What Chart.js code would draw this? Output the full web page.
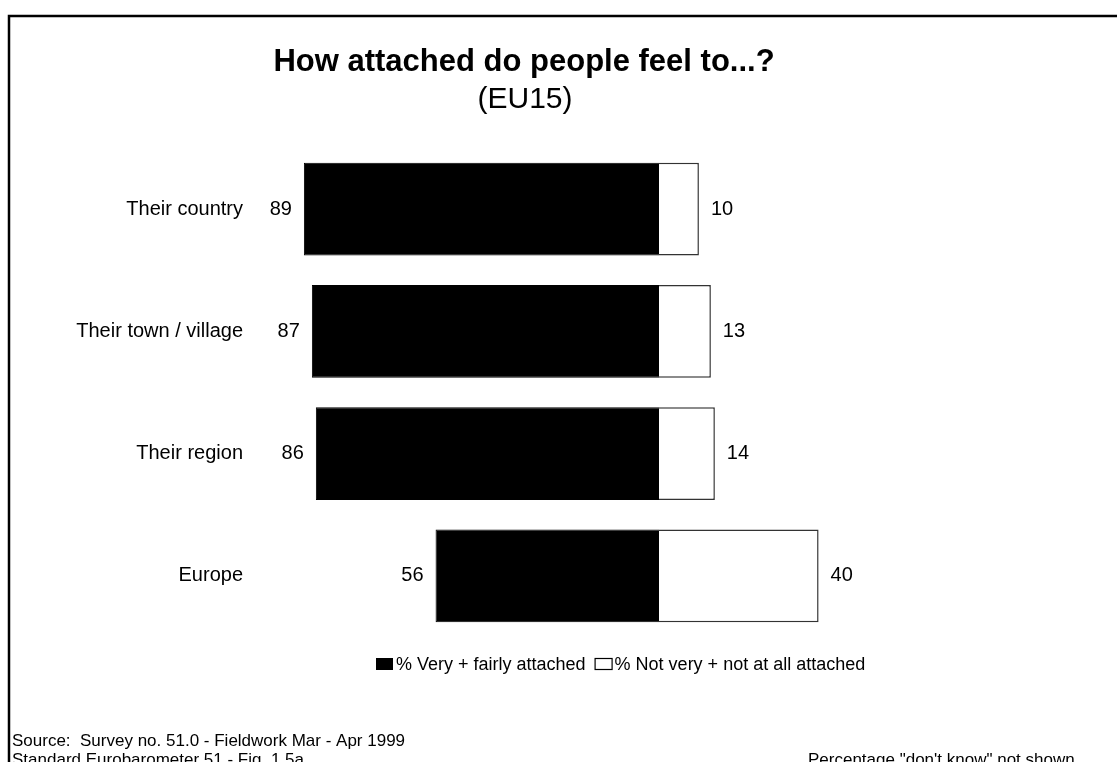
<!DOCTYPE html>
<html>
<head>
<meta charset="utf-8">
<script src="https://cdn.jsdelivr.net/npm/chart.js@4"></script>
<style>
  body { margin: 0; background: #fff; }
  canvas { display: block; }
</style>
</head>
<body>
<canvas id="chart" width="1117" height="762"></canvas>
<script>
var categories = ['Their country', 'Their town / village', 'Their region', 'Europe'];
var attached = [89, 87, 86, 56];
var notAttached = [10, 13, 14, 40];
var seriesLabels = ['% Very + fairly attached', '% Not very + not at all attached'];

var titleText = 'How attached do people feel to...?';
var subtitleText = '(EU15)';
var sourceLines = ['Source:  Survey no. 51.0 - Fieldwork Mar - Apr 1999', 'Standard Eurobarometer 51 - Fig. 1.5a'];
var noteText = 'Percentage "don\'t know" not shown';

var FONT = "'Liberation Sans', Arial, sans-serif";

// everything that is not a bar: frame, titles, labels, legend, footnotes
var decorations = {
  id: 'decorations',
  afterDraw: function (chart) {
    var ctx = chart.ctx;
    ctx.save();

    // frame (runs off the right and bottom edge)
    ctx.strokeStyle = '#000';
    ctx.lineWidth = 2.5;
    ctx.strokeRect(9, 16, 1300, 900);

    ctx.fillStyle = '#000';
    ctx.textAlign = 'center';
    ctx.textBaseline = 'alphabetic';
    ctx.font = 'bold 31px ' + FONT;
    ctx.fillText(titleText, 524, 71);
    ctx.font = '30px ' + FONT;
    ctx.fillText(subtitleText, 525, 108);

    // category labels and values
    var black = chart.getDatasetMeta(0).data;
    var white = chart.getDatasetMeta(1).data;
    ctx.font = '20px ' + FONT;
    ctx.textBaseline = 'middle';
    categories.forEach(function (cat, i) {
      var y = black[i].y;
      ctx.textAlign = 'right';
      ctx.fillText(cat, 243, y);
      ctx.fillText(String(attached[i]), black[i].x - 12, y);
      ctx.textAlign = 'left';
      ctx.fillText(String(notAttached[i]), white[i].x + 12, y);
    });

    // legend
    ctx.font = '18px ' + FONT;
    var x = 376, ly = 665;
    ctx.fillStyle = '#000';
    ctx.fillRect(x, ly - 7, 17, 12);
    x += 20;
    ctx.textAlign = 'left';
    ctx.fillText(seriesLabels[0], x, ly);
    x += ctx.measureText(seriesLabels[0]).width + 9;
    ctx.lineWidth = 1.2;
    ctx.strokeStyle = '#000';
    ctx.strokeRect(x + 0.5, ly - 6.5, 17, 11);
    x += 20;
    ctx.fillText(seriesLabels[1], x, ly);

    // footnotes
    ctx.font = '17px ' + FONT;
    ctx.textBaseline = 'alphabetic';
    ctx.fillText(sourceLines[0], 12, 746);
    ctx.fillText(sourceLines[1], 12, 765);
    ctx.fillText(noteText, 808, 765);

    ctx.restore();
  }
};

new Chart(document.getElementById('chart'), {
  type: 'bar',
  data: {
    labels: categories,
    datasets: [{
      label: seriesLabels[0],
      data: attached.map(function (v) { return -v; }),
      backgroundColor: '#000',
      borderColor: '#000',
      borderWidth: 1
    }, {
      label: seriesLabels[1],
      data: notAttached,
      backgroundColor: '#fff',
      borderColor: '#333',
      borderWidth: 1.5
    }]
  },
  options: {
    indexAxis: 'y',
    responsive: false,
    animation: false,
    devicePixelRatio: 1,
    categoryPercentage: 1,
    barPercentage: 0.76,
    layout: { padding: { left: 260, right: 59, top: 148, bottom: 125 } },
    scales: {
      x: { stacked: true, min: -100, max: 100, display: false },
      y: { stacked: true, display: false }
    },
    plugins: {
      legend: { display: false },
      title: { display: false },
      tooltip: { enabled: false }
    }
  },
  plugins: [decorations]
});
</script>
</body>
</html>
